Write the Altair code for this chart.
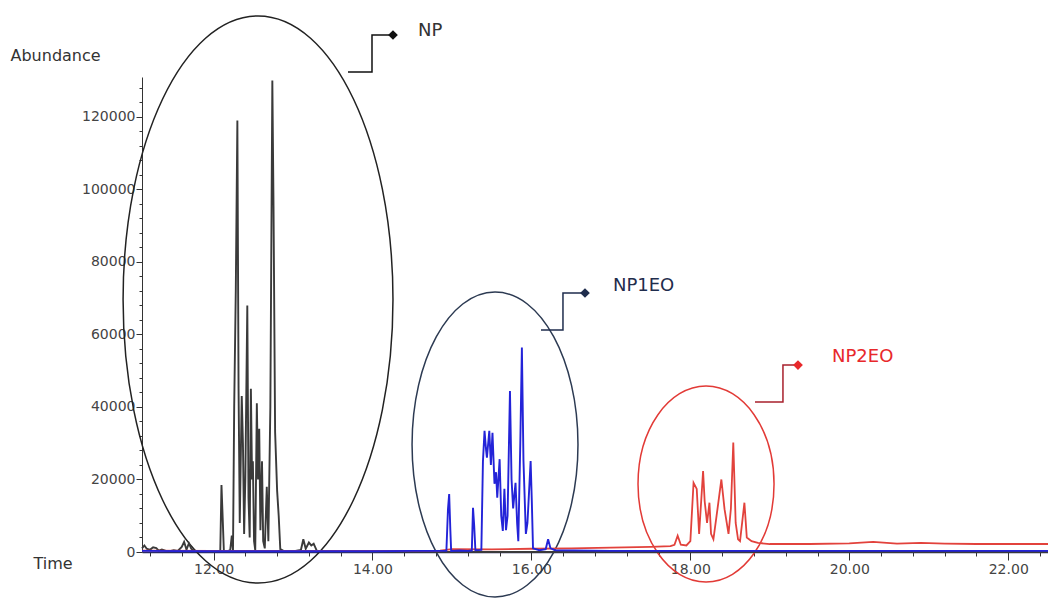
import altair as alt
import pandas as pd

# ---- chromatogram traces: (retention time [min], abundance) ----
np_points = [
    (11.10, 1000), (11.13, 1800), (11.16, 900), (11.20, 600), (11.24, 1300), (11.28, 1100),
    (11.31, 400), (11.35, 700), (11.40, 300), (11.45, 200), (11.50, 500), (11.55, 300),
    (11.60, 1400), (11.63, 2800), (11.66, 600), (11.69, 2400), (11.72, 900), (11.75, 400),
    (11.80, 200), (11.88, 300), (11.95, 100), (12.03, 200), (12.085, 300), (12.10, 18500),
    (12.115, 9500), (12.13, 300), (12.17, 200), (12.21, 500), (12.23, 4500), (12.245, 400),
    (12.26, 40000), (12.28, 72000), (12.30, 119000), (12.315, 45000), (12.33, 8000),
    (12.355, 43000), (12.37, 30000), (12.385, 5000), (12.40, 20000), (12.425, 68000),
    (12.44, 15000), (12.455, 4000), (12.47, 45000), (12.485, 20000), (12.495, 25000),
    (12.51, 3000), (12.525, 500), (12.545, 41000), (12.56, 20000), (12.575, 34000),
    (12.59, 6000), (12.61, 25000), (12.625, 3000), (12.645, 1000), (12.67, 18000),
    (12.69, 3000), (12.715, 40000), (12.74, 130000), (12.755, 95000), (12.775, 33000),
    (12.80, 17000), (12.82, 10000), (12.84, 800), (12.88, 300), (12.95, 200), (13.03, 300),
    (13.10, 600), (13.13, 3500), (13.16, 900), (13.20, 2600), (13.23, 1800), (13.26, 2300),
    (13.30, 300), (13.40, 200), (13.60, 100), (14.00, 100), (15.00, 0), (17.00, 0),
    (20.00, 0), (22.50, 0),
]

np1eo_points = [
    (11.10, 300), (12.00, 200), (13.00, 200), (14.00, 200), (14.50, 300), (14.93, 300),
    (14.95, 11800), (14.965, 16000), (14.98, 6000), (14.99, 300), (15.10, 400), (15.20, 300),
    (15.25, 400), (15.265, 12200), (15.28, 7200), (15.295, 500), (15.37, 600), (15.39, 25000),
    (15.41, 33400), (15.43, 28000), (15.44, 26000), (15.47, 33400), (15.49, 24000),
    (15.51, 32900), (15.535, 18800), (15.555, 22000), (15.57, 15000), (15.60, 25600),
    (15.62, 10000), (15.64, 5800), (15.66, 17400), (15.68, 6000), (15.70, 10000),
    (15.73, 44400), (15.75, 20000), (15.77, 12000), (15.80, 19100), (15.82, 8000),
    (15.835, 3000), (15.86, 30000), (15.88, 56400), (15.90, 25100), (15.93, 5000),
    (15.95, 8000), (15.99, 25100), (16.005, 14000), (16.02, 1000), (16.10, 500),
    (16.18, 800), (16.21, 3500), (16.24, 1000), (16.30, 500), (17.00, 300), (20.00, 300),
    (22.50, 300),
]

np2eo_points = [
    (11.10, 400), (12.00, 300), (13.00, 300), (14.00, 300), (14.85, 400), (15.00, 800),
    (15.50, 700), (16.00, 900), (16.50, 1000), (17.00, 1200), (17.50, 1400), (17.75, 1600),
    (17.80, 2000), (17.84, 4500), (17.88, 2000), (17.95, 1800), (18.00, 3000), (18.04, 19100),
    (18.08, 17400), (18.11, 5000), (18.16, 22300), (18.18, 14000), (18.21, 8000),
    (18.24, 13600), (18.26, 5000), (18.29, 3500), (18.33, 10000), (18.39, 20000),
    (18.43, 11800), (18.48, 5000), (18.51, 12000), (18.54, 30200), (18.57, 8000),
    (18.60, 3500), (18.625, 3000), (18.68, 13600), (18.71, 4000), (18.77, 3000),
    (18.85, 2500), (19.00, 2200), (19.50, 2200), (20.00, 2400), (20.30, 2800), (20.60, 2300),
    (20.90, 2500), (21.20, 2300), (21.60, 2200), (22.50, 2200),
]

# ---- axes ----
x_ticks = [11.2, 11.6, 12.0, 12.4, 12.8, 13.2, 13.6, 14.0, 14.4, 14.8, 15.2, 15.6, 16.0,
           16.4, 16.8, 17.2, 17.6, 18.0, 18.4, 18.8, 19.2, 19.6, 20.0, 20.4, 20.8, 21.2,
           21.6, 22.0, 22.4]
y_ticks = list(range(0, 131000, 4000))

# ---- annotations (data units) ----
group_labels = ["NP", "NP1EO", "NP2EO"]
group_colors = ["#333333", "#1f2d4d", "#e8282b"]
line_colors = ["#111111", "#1f2d4d", "#a8202c"]
ellipse_colors = ["#222222", "#2c3a52", "#e23a36"]
ellipse_center_t = [12.560, 15.542, 18.197]
ellipse_center_a = [69637, 29647, 18754]
ellipse_ratio = [0.476, 0.544, 0.694]      # rx / ry
ellipse_diam = [567, 305, 196]            # vertical diameter in px
callout_t = [[13.692, 13.994, 13.994, 14.258],
             [16.120, 16.397, 16.397, 16.674],
             [18.813, 19.165, 19.165, 19.354]]
callout_a = [[132379, 132379, 142583, 142583],
             [61225, 61225, 71429, 71429],
             [41368, 41368, 51572, 51572]]
label_t = [14.573, 17.026, 19.782]
label_a = [143686, 73359, 53779]


def ellipse_path(rx):
    k = 0.5523
    return (f"M 0 -1 C {k*rx:.4f} -1 {rx:.4f} {-k:.4f} {rx:.4f} 0 "
            f"C {rx:.4f} {k:.4f} {k*rx:.4f} 1 0 1 "
            f"C {-k*rx:.4f} 1 {-rx:.4f} {k:.4f} {-rx:.4f} 0 "
            f"C {-rx:.4f} {-k:.4f} {-k*rx:.4f} -1 0 -1 Z")


xs = alt.Scale(domain=[11.1, 22.5], nice=False, zero=False)
ys = alt.Scale(domain=[0, 131000], nice=False)

x_axis = alt.Axis(
    values=x_ticks,
    labelExpr="abs(datum.value/2 - round(datum.value/2)) < 0.01 ? format(datum.value, '.2f') : ''",
    tickSize={"condition": {"test": "abs(datum.value/2 - round(datum.value/2)) < 0.01", "value": 8}, "value": 4},
    grid=False, domainColor="#2a2a66", domainWidth=1.5, tickColor="#333333",
    labelFont="DejaVu Sans", labelFontSize=14, labelColor="#444444", labelPadding=2,
    title="Time", titleFont="DejaVu Sans", titleFontSize=16, titleFontWeight="normal",
    titleColor="#333333", titleAlign="left", titleBaseline="middle", titleX=-109, titleY=11,
)
y_axis = alt.Axis(
    values=y_ticks,
    labelExpr="datum.value % 20000 === 0 ? format(datum.value, 'd') : ''",
    tickSize={"condition": {"test": "datum.value % 20000 === 0", "value": 6}, "value": 3},
    grid=False, domainColor="#333333", tickColor="#333333",
    labelFont="DejaVu Sans", labelFontSize=14, labelColor="#444444", labelPadding=1,
    title="Abundance", titleFont="DejaVu Sans", titleFontSize=16, titleFontWeight="normal",
    titleColor="#333333", titleAngle=0, titleAlign="left", titleBaseline="middle",
    titleX=-132, titleY=-22,
)

X = alt.X("t:Q", scale=xs, axis=x_axis)
Y = alt.Y("a:Q", scale=ys, axis=y_axis)

layers = []

# ellipses
for i in range(3):
    df = pd.DataFrame({"t": [ellipse_center_t[i]], "a": [ellipse_center_a[i]]})
    layers.append(
        alt.Chart(df).mark_point(
            shape=ellipse_path(ellipse_ratio[i]), size=ellipse_diam[i] ** 2,
            filled=False, stroke=ellipse_colors[i], strokeWidth=1.5, opacity=1,
        ).encode(x=X, y=Y)
    )

# traces
def trace(points, color, width):
    df = pd.DataFrame(points, columns=["t", "a"])
    return alt.Chart(df).mark_line(color=color, strokeWidth=width,
                                   strokeJoin="miter").encode(x=X, y=Y, order="t:Q")

layers.append(trace(np_points, "#3a3a3a", 1.9))
layers.append(trace(np2eo_points, "#e2423c", 1.8))
layers.append(trace(np1eo_points, "#2323d8", 1.9))

# callouts
for i in range(3):
    df = pd.DataFrame({"t": callout_t[i], "a": callout_a[i], "k": list(range(4))})
    layers.append(
        alt.Chart(df).mark_line(color=line_colors[i], strokeWidth=1.5).encode(
            x=X, y=Y, order="k:Q")
    )
    dd = pd.DataFrame({"t": [callout_t[i][-1]], "a": [callout_a[i][-1]]})
    layers.append(
        alt.Chart(dd).mark_point(shape="diamond", filled=True, size=95,
                                 color=group_colors[i] if i else "#111111", opacity=1)
        .encode(x=X, y=Y)
    )
    dl = pd.DataFrame({"t": [label_t[i]], "a": [label_a[i]], "lab": [group_labels[i]]})
    layers.append(
        alt.Chart(dl).mark_text(align="left", baseline="middle", font="DejaVu Sans",
                                fontSize=18, color=group_colors[i])
        .encode(x=X, y=Y, text="lab:N")
    )

chart = alt.layer(*layers).properties(
    width=906, height=475,
    autosize=alt.AutoSizeParams(type="none"),
    padding={"left": 142, "top": 77, "right": 0, "bottom": 47},
    background="white",
).configure_view(stroke=None)

chart.save("out.html", embed_options={"renderer": "svg", "actions": False})
